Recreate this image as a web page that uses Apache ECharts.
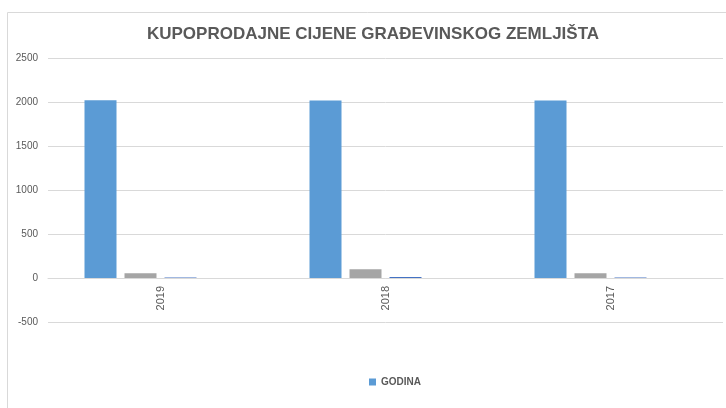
<!DOCTYPE html>
<html>
<head>
<meta charset="utf-8">
<script src="https://cdn.jsdelivr.net/npm/echarts@6/dist/echarts.min.js"></script>
<style>
  html, body { margin: 0; padding: 0; background: #fff; }
  #chart { width: 726px; height: 408px; }
</style>
</head>
<body>
<div id="chart"></div>
<script>
// 数据
var categories = ['2019', '2018', '2017'];
var godina = [2019, 2018, 2017];
var serija2 = [55, 100, 55];
var serija3 = [6, 12, 6];
var serija4 = [0, 0, 0];
var yTicks = { min: -500, max: 2500, interval: 500 };

(function() {
  var myChart = echarts.init(document.getElementById('chart'));
  var labelColor = '#595959';
  var option = {
    animation: false,
    title: {
      text: 'KUPOPRODAJNE CIJENE GRAĐEVINSKOG ZEMLJIŠTA',
      left: 368,
      top: 21,
      textAlign: 'center',
      textStyle: {
        fontFamily: 'Liberation Sans',
        fontSize: 17,
        fontWeight: 'bold',
        color: labelColor
      }
    },
    // 外框
    graphic: [{
      type: 'rect',
      shape: { x: 7.5, y: 12.5, width: 740, height: 420 },
      style: { fill: 'none', stroke: '#d9d9d9', lineWidth: 1 },
      silent: true
    }],
    legend: {
      data: ['GODINA'],
      left: 364,
      top: 372,
      itemWidth: 7,
      itemHeight: 7,
      icon: 'rect',
      textStyle: {
        color: labelColor,
        fontSize: 10,
        fontWeight: 'bold',
        fontFamily: 'Liberation Sans'
      }
    },
    grid: {
      left: 48,
      right: 3,
      top: 58,
      bottom: 86
    },
    xAxis: {
      type: 'category',
      data: categories,
      offset: -44, // 轴移到0的位置
      axisTick: { show: false },
      axisLine: {
        onZero: false,
        lineStyle: { color: '#d9d9d9' }
      },
      axisLabel: {
        rotate: 90,
        margin: 8,
        color: labelColor,
        fontSize: 11,
        fontFamily: 'Liberation Sans'
      }
    },
    yAxis: {
      type: 'value',
      min: yTicks.min,
      max: yTicks.max,
      interval: yTicks.interval,
      axisLine: { show: false },
      axisTick: { show: false },
      axisLabel: {
        color: labelColor,
        fontSize: 10,
        margin: 10,
        fontFamily: 'Liberation Sans',
        formatter: function(v) { return String(v); }
      },
      splitLine: {
        lineStyle: { color: '#d9d9d9' }
      }
    },
    series: [
      {
        name: 'GODINA',
        type: 'bar',
        data: godina,
        barWidth: 32,
        barGap: '25%',
        itemStyle: { color: '#5b9bd5' }
      },
      {
        name: 'S2',
        type: 'bar',
        data: serija2,
        barWidth: 32,
        itemStyle: { color: '#a5a5a5' }
      },
      {
        name: 'S3',
        type: 'bar',
        data: serija3,
        barWidth: 32,
        itemStyle: { color: '#4472c4' }
      },
      {
        name: 'S4',
        type: 'bar',
        data: serija4,
        barWidth: 32,
        itemStyle: { color: '#ffc000' }
      }
    ]
  };
  myChart.setOption(option);
  window.addEventListener('resize', function() {
    myChart.resize();
  });
})();
</script>
</body>
</html>
